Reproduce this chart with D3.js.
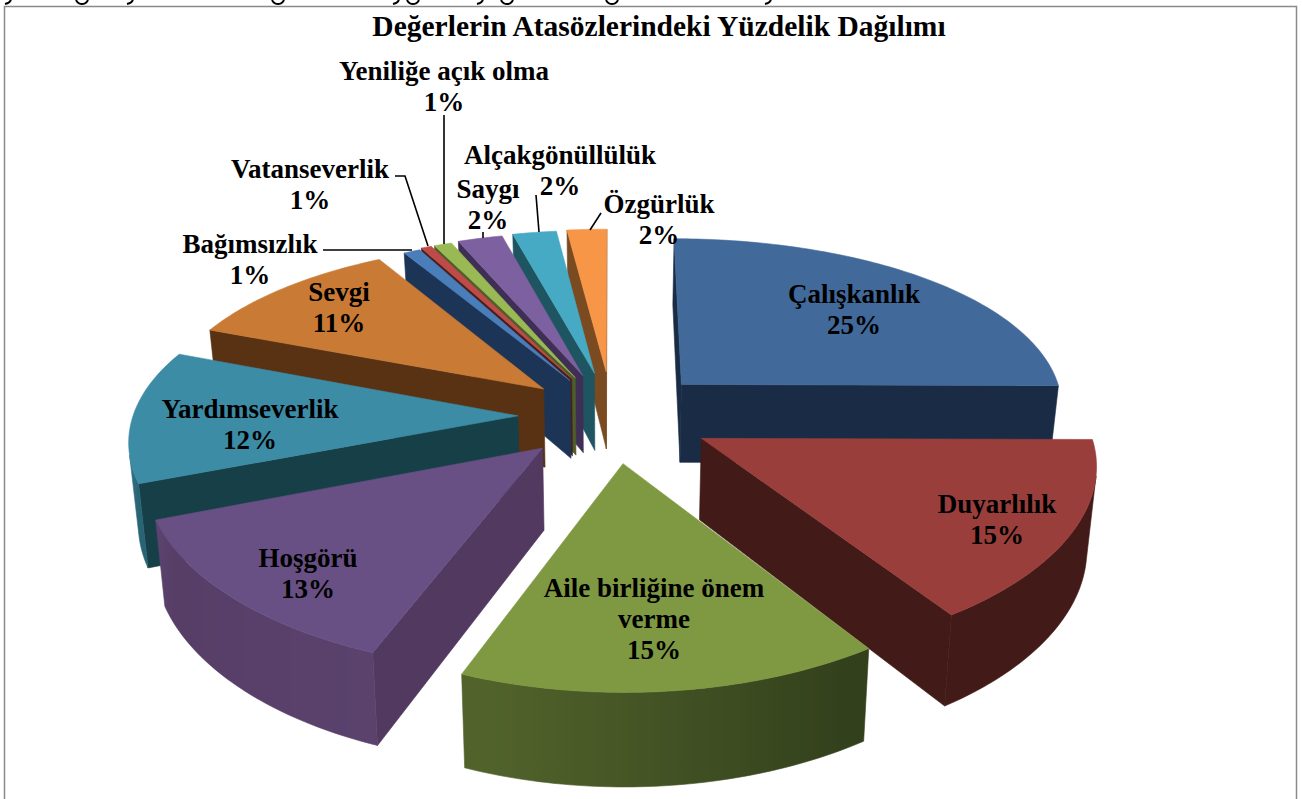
<!DOCTYPE html>
<html><head><meta charset="utf-8">
<style>html,body{margin:0;padding:0;background:#fff;overflow:hidden}svg{display:block}
text{font-family:"Liberation Serif",serif;font-weight:bold;fill:#000;text-anchor:middle}</style>
<script src="https://cdnjs.cloudflare.com/ajax/libs/d3/7.8.5/d3.min.js"></script></head>
<body><svg id="c" width="1302" height="799"></svg>
<script>
const categories=["Çalışkanlık","Duyarlılık","Aile birliğine önem verme","Hoşgörü","Yardımseverlik","Sevgi","Bağımsızlık","Vatanseverlik","Yeniliğe açık olma","Saygı","Alçakgönüllülük","Özgürlük"];
const values=[25.1,15.6,15.2,13.2,11.9,10.7,0.8,0.5,0.85,2.15,2.1,1.9];
const percentLabels=["25%","15%","15%","13%","12%","11%","1%","1%","1%","2%","2%","2%"];
const topColors=["#41699A","#9A3E3B","#7F9842","#685084","#3C8CA6","#C97A34","#4A7EBB","#BE4B48","#98B954","#7D60A0","#46AAC5","#F79646"];
const wallColors=["#1A2C45","#421A17","#33401C","#51395F","#173F48","#593213","#1C3556","#4A1C1B","#4D5E2A","#3F2E55","#1E5561","#7A4A20"];
const title="Değerlerin Atasözlerindeki Yüzdelik Dağılımı";

const P={cx:612,cy:416,R:385,k:.46,f:2500,fx:3200,h:80,hp:.03,bx:.98};
const explode=[100,100,100,96,94,92,90,94,94,96,98,100];
const cutGlyphs=[["y",8],["g",82],["y",130],["g",278],["y",396],["g",413],["y",480],["g",507],["g",612],["y",768]];
const svg=d3.select("#c");
const defs=svg.append("defs");
svg.append("rect").attr("x",4.5).attr("y",6.5).attr("width",1292).attr("height",800).attr("fill","#fff").attr("stroke","#8a8a8a").attr("stroke-width",1.5);
const arcGen=d3.line().curve(d3.curveBasis);
cutGlyphs.forEach(([t,x])=>svg.append("path")
  .attr("d",t==="g"?arcGen([[x-6,0],[x-4,4],[x+4,4],[x+6,0]]):arcGen([[x+3,0],[x+1,3],[x-3,4]]))
  .attr("fill","none").attr("stroke","#000").attr("stroke-width",2));

const arcs=d3.pie().sort(null).value(d=>d)(values);
const proj=(X,Y,bottom)=>{
  const sy=1/(1-Y/P.f), sx=1/(1-Y/P.fx);
  let x=P.cx+X*sx, y=P.cy+P.k*Y*sy;
  if(bottom){x=P.cx+(x-P.cx)*P.bx; y+=P.h+P.hp*Y;}
  return [x,y];
};
const line=d3.line();
const area=p=>d3.sum(p,(a,i)=>{const b=p[(i+1)%p.length];return a[0]*b[1]-b[0]*a[1];})/2;
const slices=arcs.map((a,i)=>{
  const mid=(a.startAngle+a.endAngle)/2;
  const ax=explode[i]*Math.sin(mid), ay=-explode[i]*Math.cos(mid);
  const pt=(t,bottom)=>proj(ax+P.R*Math.sin(t),ay-P.R*Math.cos(t),bottom);
  const n=Math.max(4,Math.round((a.endAngle-a.startAngle)*57));
  const ts=d3.range(n+1).map(j=>a.startAngle+(a.endAngle-a.startAngle)*j/n);
  return {i,a,mid,ay,ax,pt,ts,apexT:proj(ax,ay,false),apexB:proj(ax,ay,true)};
}).sort((p,q)=>(p.ay-P.R*Math.cos(p.mid)*.5)-(q.ay-P.R*Math.cos(q.mid)*.5));

const shade=d3.scaleLinear().domain([90,150,198,240,262,360]).range([0,0,.4,.2,.9,.9]).clamp(true);
slices.forEach(s=>{
  const g=svg.append("g");
  const top=topColors[s.i], wall=wallColors[s.i];
  const draw=(p,c)=>g.append("path").attr("d",line(p)+"Z").attr("fill",c).attr("stroke",c).attr("stroke-width",.6);
  const st=s.a.startAngle,en=s.a.endAngle;
  const w1=[s.pt(st),s.apexT,s.apexB,s.pt(st,true)];
  const w2=[s.apexT,s.pt(en),s.pt(en,true),s.apexB];
  if(area(w1)>0)draw(w1,wall);
  if(area(w2)>0)draw(w2,wall);
  const front=s.ts.filter((t,j)=>{
    const segs=[];
    if(j<s.ts.length-1)segs.push([t,s.ts[j+1]]);
    if(j>0)segs.push([s.ts[j-1],t]);
    return segs.some(([a,b])=>area([s.pt(a),s.pt(b),s.pt(b,true),s.pt(a,true)])<0);
  });
  if(front.length>1){
    const poly=[...front.map(t=>s.pt(t)),...front.slice().reverse().map(t=>s.pt(t,true))];
    const id="w"+s.i;
    const x1=s.pt(front[0])[0],x2=s.pt(front[front.length-1])[0];
    const gr=defs.append("linearGradient").attr("id",id).attr("gradientUnits","userSpaceOnUse").attr("x1",x1).attr("x2",x2).attr("y1",0).attr("y2",0);
    front.forEach(t=>{
      const deg=t*180/Math.PI;
      const o=Math.abs(x2-x1)<.01?0:(s.pt(t)[0]-x1)/(x2-x1);
      gr.append("stop").attr("offset",o).attr("stop-color",d3.interpolateRgb(wall,top)(shade(deg)));
    });
    draw(poly,`url(#${id})`);
  }
  draw([s.apexT,...s.ts.map(t=>s.pt(t))],top);
});

const labelPos=[[854,[303,334]],[997,[513,544]],[654,[597,628,659]],[308,[567,598]],[250,[418,449]],[339,[301,332]],[250,[253,284]],[310,[178,209]],[444,[80,111]],[488,[198,229]],[560,[164,195]],[659,[213,244]]];
const wrapped=i=>i===2?["Aile birliğine önem","verme"]:[categories[i]];
labelPos.forEach(([x,ys],i)=>{
  [...wrapped(i),percentLabels[i]].forEach((t,j)=>svg.append("text").attr("x",x).attr("y",ys[j]).attr("font-size",27).text(t));
});
svg.append("text").attr("x",659).attr("y",36).attr("font-size",29.5).text(title);

const leaders=[[[323,250],[412,250]],[[395,176],[405,176],[428,246]],[[444,115],[444,244]],[[483,232],[483,238]],[[536,195],[539,232]],[[601,213],[590,230]]];
leaders.forEach(p=>svg.append("path").attr("d",line(p)).attr("fill","none").attr("stroke","#000").attr("stroke-width",1.6));
</script></body></html>
